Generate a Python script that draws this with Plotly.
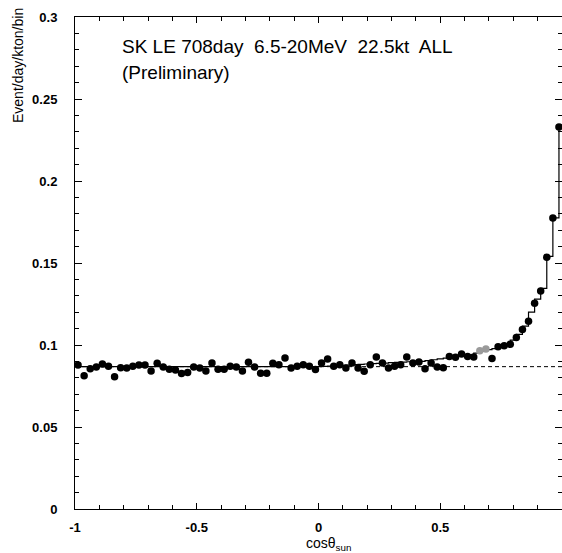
import numpy as np
import plotly.graph_objects as go

# ---- data ----
N_BINS = 80
X_MIN, X_MAX = -1.0, 1.0
bin_width = (X_MAX - X_MIN) / N_BINS
cos_theta = [X_MIN + bin_width * (i + 0.5) for i in range(N_BINS)]

events = [
    0.0878, 0.0812, 0.0855, 0.0866, 0.0884, 0.0870, 0.0806, 0.0862, 0.0860, 0.0870,
    0.0878, 0.0878, 0.0842, 0.0888, 0.0866, 0.0852, 0.0848, 0.0826, 0.0832, 0.0866,
    0.0860, 0.0842, 0.0890, 0.0852, 0.0852, 0.0870, 0.0866, 0.0842, 0.0895, 0.0866,
    0.0828, 0.0828, 0.0888, 0.0880, 0.0920, 0.0860, 0.0870, 0.0880, 0.0870, 0.0850,
    0.0890, 0.0915, 0.0870, 0.0880, 0.0860, 0.0890, 0.0860, 0.0840, 0.0880, 0.0927,
    0.0890, 0.0860, 0.0870, 0.0880, 0.0927, 0.0890, 0.0896, 0.0855, 0.0890, 0.0866,
    0.0862, 0.0930, 0.0925, 0.0945, 0.0930, 0.0927, 0.0965, 0.0975, 0.0918, 0.0990,
    0.0995, 0.1005, 0.1045, 0.1095, 0.1145, 0.1255, 0.1330, 0.1535, 0.1775, 0.2330,
]

fit = [
    0.0868, 0.0868, 0.0868, 0.0868, 0.0868, 0.0868, 0.0868, 0.0868, 0.0868, 0.0868,
    0.0868, 0.0868, 0.0868, 0.0868, 0.0868, 0.0868, 0.0868, 0.0868, 0.0868, 0.0868,
    0.0868, 0.0868, 0.0868, 0.0868, 0.0868, 0.0868, 0.0868, 0.0868, 0.0868, 0.0868,
    0.0868, 0.0868, 0.0868, 0.0868, 0.0868, 0.0868, 0.0868, 0.0868, 0.0868, 0.0868,
    0.0870, 0.0872, 0.0874, 0.0876, 0.0878, 0.0880, 0.0882, 0.0884, 0.0886, 0.0888,
    0.0890, 0.0892, 0.0894, 0.0896, 0.0898, 0.0900, 0.0900, 0.0905, 0.0910, 0.0915,
    0.0920, 0.0928, 0.0932, 0.0936, 0.0940, 0.0950, 0.0962, 0.0972, 0.0978, 0.0990,
    0.1000, 0.1030, 0.1065, 0.1115, 0.1200, 0.1280, 0.1345, 0.1540, 0.1775, 0.2330,
]

background_x = [-1.0, 1.0]
background = [0.0868, 0.0868]

faint_bins = [66, 67]

title_line1 = "SK LE 708day  6.5-20MeV  22.5kt  ALL"
title_line2 = "(Preliminary)"
y_title = "Event/day/kton/bin"
x_title = "cosθ<sub>sun</sub>"

# ---- figure ----
FONT = "Liberation Sans, Arial, sans-serif"
L, R, T, B = 75, 0, 17, 44
W, H = 562, 553
pw, ph = W - L - R, H - T - B

def px_x(p):
    return (p - L) / pw

def px_y(p):
    return (H - B - p) / ph

marker_colors = ["#9a9a9a" if i in faint_bins else "black" for i in range(N_BINS)]

fig = go.Figure()
fig.add_trace(go.Scatter(
    x=background_x, y=background, mode="lines",
    line=dict(color="black", width=1, dash="4px,3px"),
    hoverinfo="skip", showlegend=False,
))
fig.add_trace(go.Scatter(
    x=cos_theta, y=fit, mode="lines",
    line=dict(color="black", width=1.2, shape="hv"),
    showlegend=False,
))
fig.add_trace(go.Scatter(
    x=cos_theta, y=events, mode="markers",
    marker=dict(color=marker_colors, size=7.5, symbol="circle", line=dict(width=0)),
    showlegend=False,
))

axis_common = dict(
    showgrid=False, zeroline=False, showline=True, linecolor="black", linewidth=1,
    ticks="inside", tickcolor="black", mirror="ticks",
    tickfont=dict(family=FONT, size=13, color="black", weight="bold"),
)

fig.update_xaxes(
    range=[X_MIN, X_MAX], tickmode="array",
    tickvals=[-1, -0.5, 0, 0.5], ticktext=["-1", "-0.5", "0", "0.5"],
    ticklen=6, tickwidth=1,
    minor=dict(dtick=0.1, tick0=-1, ticklen=4, ticks="inside", tickcolor="black"),
    ticklabelstandoff=6,
    **axis_common,
)
fig.update_yaxes(
    range=[0, 0.3], tickmode="array",
    tickvals=[0, 0.05, 0.1, 0.15, 0.2, 0.25, 0.3],
    ticktext=["0", "0.05", "0.1", "0.15", "0.2", "0.25", "0.3"],
    ticklen=7, tickwidth=1,
    minor=dict(dtick=0.01, tick0=0, ticklen=4, ticks="inside", tickcolor="black"),
    ticklabelstandoff=14,
    **axis_common,
)

fig.add_annotation(x=px_x(120), y=px_y(46), xref="paper", yref="paper",
                   text=title_line1, showarrow=False, xanchor="left", yanchor="middle",
                   font=dict(family=FONT, size=19, color="black"))
fig.add_annotation(x=px_x(120), y=px_y(73), xref="paper", yref="paper",
                   text=title_line2, showarrow=False, xanchor="left", yanchor="middle",
                   font=dict(family=FONT, size=19, color="black"))
fig.add_annotation(x=px_x(18), y=px_y(66), xref="paper", yref="paper",
                   text=y_title, showarrow=False, textangle=-90,
                   xanchor="center", yanchor="middle",
                   font=dict(family=FONT, size=14, color="black"))
fig.add_annotation(x=px_x(328), y=px_y(544), xref="paper", yref="paper",
                   text=x_title, showarrow=False, xanchor="center", yanchor="middle",
                   font=dict(family=FONT, size=14, color="black"))

fig.update_layout(
    width=W, height=H,
    margin=dict(l=L, r=R, t=T, b=B, pad=0),
    paper_bgcolor="white", plot_bgcolor="white",
    showlegend=False,
)

fig.write_html(
    "out.html",
    config={"displayModeBar": False},
    post_script="document.body.style.margin='0px';document.body.style.overflow='hidden';",
)
